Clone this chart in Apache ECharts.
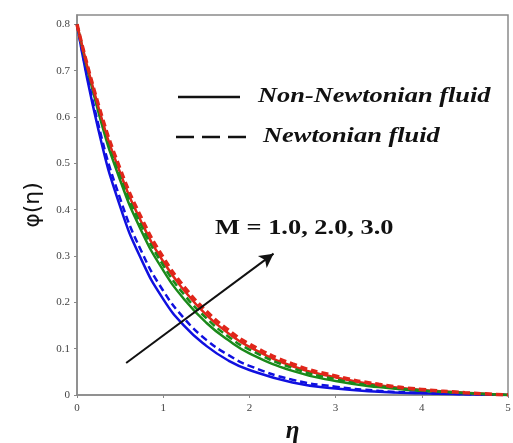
<!DOCTYPE html>
<html>
<head>
<meta charset="utf-8">
<script src="https://cdn.jsdelivr.net/npm/echarts@6/dist/echarts.min.js"></script>
<style>
  html, body { margin: 0; padding: 0; background: #fff; }
  #chart { width: 513px; height: 443px; }
</style>
</head>
<body>
<div id="chart"></div>
<script>
// eta values
const eta = [0, 0.25, 0.5, 0.75, 1, 1.25, 1.5, 1.75, 2, 2.5, 3, 3.5, 4, 4.5, 5]

// phi(eta), solid = non-Newtonian, dashed = Newtonian
const blueSolid  = [0.8, 0.571, 0.407, 0.291, 0.207, 0.148, 0.106, 0.075, 0.054, 0.027, 0.014, 0.007, 0.0036, 0.0015, 0]
const blueDash   = [0.8, 0.582, 0.424, 0.309, 0.225, 0.164, 0.119, 0.087, 0.063, 0.033, 0.018, 0.009, 0.0045, 0.002, 0]
const greenSolid = [0.8, 0.609, 0.464, 0.353, 0.269, 0.205, 0.156, 0.119, 0.090, 0.052, 0.030, 0.017, 0.009, 0.004, 0]
const greenDash  = [0.8, 0.615, 0.473, 0.364, 0.280, 0.215, 0.166, 0.127, 0.098, 0.058, 0.034, 0.019, 0.010, 0.0045, 0]
const redSolid   = [0.8, 0.620, 0.480, 0.372, 0.288, 0.224, 0.173, 0.134, 0.104, 0.062, 0.038, 0.021, 0.011, 0.005, 0]
const redDash    = [0.8, 0.625, 0.488, 0.381, 0.297, 0.232, 0.181, 0.141, 0.110, 0.067, 0.041, 0.023, 0.012, 0.005, 0]

const xTicks = [0, 1, 2, 3, 4, 5]
const arrowFrom = [0.57, 0.069]
const arrowTo = [2.28, 0.305]

const pair = (ys) => eta.map((x, i) => [x, ys[i]])

const curve = (name, ys, color, type, width) => ({
    name: name,
    type: 'line',
    data: pair(ys),
    smooth: true,
    showSymbol: false,
    lineStyle: { color: color, type: type, width: width },
    z: type === 'solid' ? 3 : 4
})

const chart = echarts.init(document.getElementById('chart'))

const serif = 'Liberation Serif'
const legendFont = 'italic bold 22px "Liberation Serif"'

const option = {
    animation: false,
    grid: {
        left: 77, right: 5, top: 15, bottom: 48,
        outerBoundsMode: 'none',
        show: true, borderColor: '#8a8a8a', borderWidth: 1.5
    },
    xAxis: {
        type: 'value',
        min: 0, max: 5, interval: 1,
        name: 'η',
        nameLocation: 'middle',
        nameGap: 24,
        nameTextStyle: { fontFamily: serif, fontSize: 25, fontWeight: 'bold', fontStyle: 'italic', color: '#111' },
        axisLine: { lineStyle: { color: '#8a8a8a', width: 1.5 } },
        axisTick: { show: true, length: 3, lineStyle: { color: '#888' } },
        axisLabel: { fontFamily: serif, fontSize: 11, color: '#444', margin: 8,
            formatter: v => xTicks.includes(v) ? String(v) : '' },
        splitLine: { show: false }
    },
    yAxis: {
        type: 'value',
        min: 0, max: 0.82, interval: 0.1,
        name: 'φ(η)',
        nameLocation: 'middle',
        nameGap: 33,
        nameRotate: 90,
        nameTextStyle: { fontFamily: 'DejaVu Sans', fontSize: 22, color: '#111' },
        axisLine: { lineStyle: { color: '#8a8a8a', width: 1.5 } },
        axisTick: { show: true, length: 3, lineStyle: { color: '#888' } },
        axisLabel: { fontFamily: serif, fontSize: 11, color: '#444', margin: 7, showMaxLabel: false,
            formatter: v => (Math.round(v * 10) / 10).toString() },
        splitLine: { show: false }
    },
    series: [
        curve('M=1 solid', blueSolid, '#1010e0', 'solid', 2.5),
        curve('M=1 dash', blueDash, '#1010e0', [7, 4], 2.5),
        curve('M=2 solid', greenSolid, '#1a8a1a', 'solid', 2.5),
        curve('M=2 dash', greenDash, '#1a8a1a', [7, 4], 2.5),
        curve('M=3 solid', redSolid, '#e0261a', 'solid', 2.5),
        curve('M=3 dash', redDash, '#e0261a', [7, 4], 3.5),
        {
            name: 'arrow',
            type: 'line',
            data: [],
            markLine: {
                silent: true,
                symbol: ['none', 'arrow'],
                symbolSize: [11, 14],
                label: { show: false },
                lineStyle: { color: '#111', type: 'solid', width: 2 },
                data: [[{ coord: arrowFrom }, { coord: arrowTo }]]
            },
            z: 6
        }
    ],
    graphic: [
        { type: 'line', shape: { x1: 178, y1: 97, x2: 240, y2: 97 }, style: { stroke: '#111', lineWidth: 2.5 } },
        { type: 'text', x: 258, y: 96, scaleX: 1.2,
          style: { text: 'Non-Newtonian fluid', font: legendFont, fill: '#111', verticalAlign: 'middle' } },
        { type: 'line', shape: { x1: 176, y1: 137, x2: 250, y2: 137 }, style: { stroke: '#111', lineWidth: 2.5, lineDash: [18, 8] } },
        { type: 'text', x: 263, y: 136, scaleX: 1.2,
          style: { text: 'Newtonian fluid', font: legendFont, fill: '#111', verticalAlign: 'middle' } },
        { type: 'text', x: 215, y: 228, scaleX: 1.2,
          style: { text: 'M = 1.0, 2.0, 3.0', font: 'bold 22px "Liberation Serif"', fill: '#111', verticalAlign: 'middle' } }
    ]
}

chart.setOption(option)
</script>
</body>
</html>
